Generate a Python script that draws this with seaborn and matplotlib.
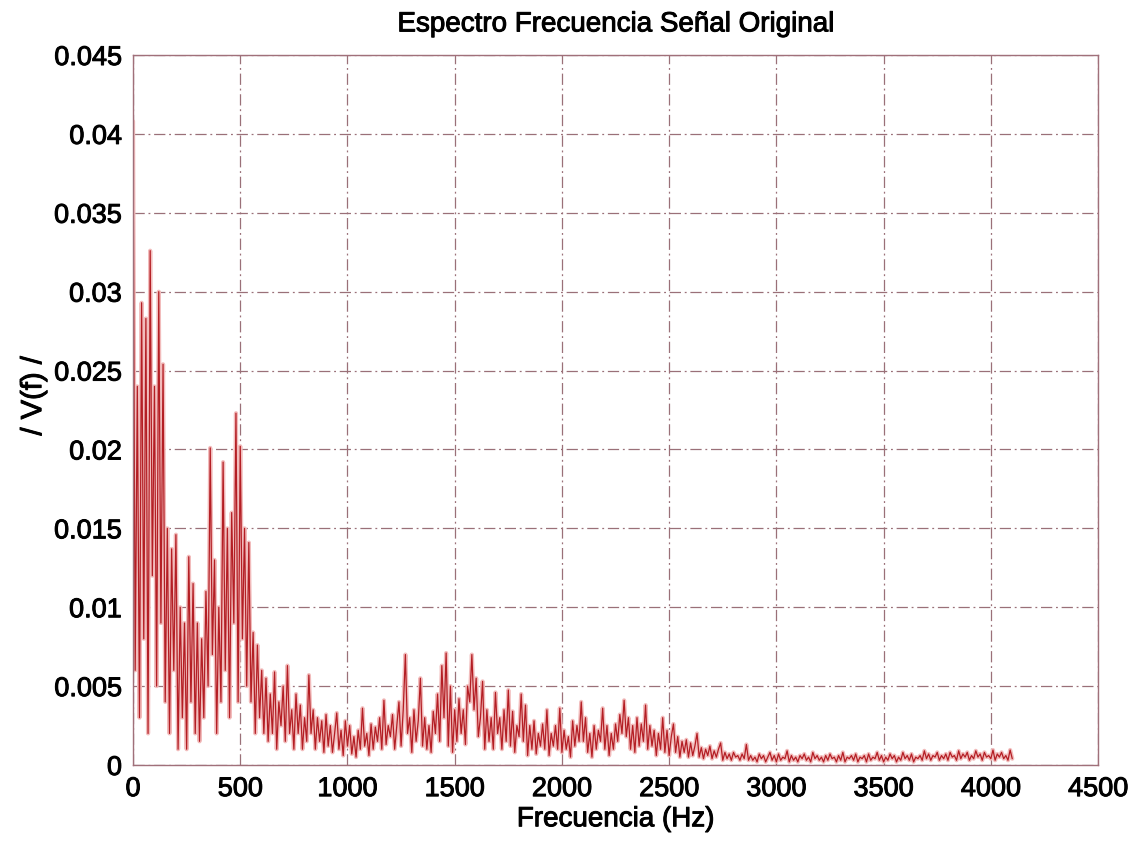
import numpy as np
import matplotlib
matplotlib.use("Agg")
import matplotlib.pyplot as plt
import matplotlib.patheffects as pe
import seaborn as sns

# Frequency axis step (Hz) and magnitude values (units of 1e-3)
freq_step_hz = 10
magnitude_e3 = [
    40.8, 6, 24, 3, 29.3, 8, 28.3, 2, 32.6, 12,
    24, 5, 30, 9, 25.4, 4, 15, 2, 13.7, 6,
    14.6, 1, 10, 3, 9, 1, 13.2, 4, 11.5, 2,
    9, 1.5, 8, 3, 11, 5, 20.1, 7, 13, 2,
    10, 4, 19.2, 6, 15, 3, 16, 9, 22.3, 4,
    20.2, 8, 15, 5, 14.1, 4, 8.4, 2, 7.6, 3,
    6, 2, 5.5, 1.5, 4.5, 2, 5.9, 1, 4, 2.5,
    5, 1.5, 6.3, 2, 3.5, 1, 4.5, 2, 3.8, 1,
    3, 1.5, 5.7, 2, 3.5, 1, 3, 1.5, 2.8, 0.8,
    3.2, 1.2, 2.5, 0.8, 2, 3.3, 1, 2.2, 0.6, 2.8,
    1.2, 2.5, 0.7, 1.8, 0.5, 2.2, 1, 3.6, 1.2, 2,
    0.6, 2.6, 1, 2.4, 1.5, 3, 1, 4.1, 1.3, 2.5,
    1.8, 3.2, 1, 2.5, 4, 1.2, 3.5, 7.0, 2, 3,
    0.8, 3.5, 1.5, 2.8, 5.5, 1.2, 3, 1, 2.5, 0.8,
    3.4, 2, 4.5, 1.5, 6.3, 3, 7.1, 1.2, 5, 0.8,
    3.5, 1.5, 4.2, 2, 3.5, 1.3, 5, 4, 7.0, 3.5,
    5.5, 1.8, 3, 5.3, 1, 3.5, 1.5, 3, 1, 4.6,
    2, 3, 1, 3.5, 1.5, 4.75, 1.2, 3.4, 0.8, 2.5,
    1.8, 4.5, 1.5, 3.8, 0.6, 2.5, 1, 2.8, 0.7, 2,
    1.2, 2.6, 1, 3.5, 0.6, 2, 1.2, 2.5, 1, 3.6,
    0.8, 2.2, 1, 1.8, 0.5, 2.8, 1.2, 2.5, 1.5, 4.0,
    1.5, 3, 0.8, 2, 0.5, 2.5, 1, 2.2, 1.5, 3.6,
    1, 2.5, 0.6, 2, 1, 2.6, 1.5, 3.2, 2, 4.1,
    1.8, 3, 1, 2.5, 0.8, 3, 1.2, 2.6, 1.5, 3.8,
    1, 2.5, 1.2, 2.2, 0.6, 2, 1, 3, 0.8, 2.2,
    0.6, 1.8, 2.6, 0.8, 1.8, 0.5, 1.5, 0.8, 1.6, 0.5,
    1.4, 0.6, 1.2, 2, 0.5, 1.1, 0.4, 1, 0.6, 1.2,
    0.4, 0.9, 0.5, 1.0, 1.4, 0.3, 0.8, 0.4, 0.7, 0.3,
    0.8, 0.5, 0.6, 0.3, 0.7, 0.4, 1.3, 0.3, 0.6, 0.3,
    0.5, 0.2, 0.7, 0.4, 0.6, 0.2, 0.5, 0.8, 0.3, 0.6,
    0.2, 0.7, 0.3, 0.5, 0.4, 0.9, 0.2, 0.6, 0.3, 0.5,
    0.2, 0.6, 0.4, 0.7, 0.3, 0.5, 0.2, 0.8, 0.4, 0.6,
    0.3, 0.5, 0.2, 0.6, 0.3, 0.7, 0.4, 0.5, 0.2, 0.6,
    0.3, 0.8, 0.2, 0.5, 0.4, 0.6, 0.3, 0.7, 0.2, 0.5,
    0.4, 0.6, 0.2, 0.7, 0.3, 0.5, 0.4, 0.8, 0.3, 0.6,
    0.2, 0.5, 0.3, 0.7, 0.4, 0.6, 0.2, 0.5, 0.3, 0.8,
    0.4, 0.6, 0.3, 0.7, 0.2, 0.5, 0.4, 0.6, 0.3, 0.9,
    0.4, 0.7, 0.3, 0.6, 0.5, 0.8, 0.3, 0.6, 0.4, 0.7,
    0.3, 0.8, 0.5, 0.6, 0.3, 0.9, 0.4, 0.7, 0.5, 0.8,
    0.3, 0.6, 0.4, 0.9, 0.5, 0.7, 0.3, 0.8, 0.5, 0.6,
    0.4, 0.95, 0.3, 0.7, 0.5, 0.8, 0.4, 0.6, 0.3, 0.95,
    0.4,
]

x_ticks = [0, 500, 1000, 1500, 2000, 2500, 3000, 3500, 4000, 4500]
y_ticks = [0, 0.005, 0.01, 0.015, 0.02, 0.025, 0.03, 0.035, 0.04, 0.045]
y_tick_labels = ["0", "0.005", "0.01", "0.015", "0.02", "0.025", "0.03", "0.035", "0.04", "0.045"]

title_text = "Espectro Frecuencia Señal Original"
x_label = "Frecuencia (Hz)"
y_label = "/ V(f) /"

freqs = np.arange(len(magnitude_e3)) * freq_step_hz
mags = np.array(magnitude_e3) * 1e-3

sns.set_theme(style="white")
plt.rcParams["font.family"] = ["Liberation Sans", "DejaVu Sans"]

fig = plt.figure(figsize=(11.38, 8.44), dpi=100)
ax = fig.add_axes([0.1169, 0.0936, 0.8480, 0.8412])

sns.lineplot(x=freqs, y=mags, ax=ax, color="#b41e24", linewidth=0.9, estimator=None, sort=False)
for ln in ax.get_lines():
    ln.set_path_effects([pe.Stroke(linewidth=3.0, foreground="#f2bcbc"), pe.Normal()])

ax.set_xlim(0, 4500)
ax.set_ylim(0, 0.045)
ax.set_xticks(x_ticks)
ax.set_yticks(y_ticks)
ax.set_yticklabels(y_tick_labels)
ax.tick_params(axis="both", direction="in", length=6, width=0.8, color="#9a6a74",
               labelsize=19.5, labelcolor="black", pad=8)

thick = [pe.withStroke(linewidth=0.7, foreground="black")]
for lbl in ax.get_xticklabels() + ax.get_yticklabels():
    lbl.set_path_effects(thick)

grid_color = "#9a7078"
ax.grid(True, which="major", color=grid_color, linestyle=(0, (9, 3, 1.5, 3)), linewidth=0.9)
for s in ax.spines.values():
    s.set_color("#a0707a")
    s.set_linewidth(1.0)

t = ax.set_title(title_text, fontsize=20, pad=17, color="black")
t.set_path_effects(thick)
xl = ax.set_xlabel(x_label, fontsize=20, labelpad=3, color="black")
xl.set_path_effects(thick)
yl = ax.set_ylabel(y_label, fontsize=21, color="black")
yl.set_path_effects(thick)
ax.yaxis.set_label_coords(-0.089, 0.52)

fig.savefig("out.png", dpi=100)
